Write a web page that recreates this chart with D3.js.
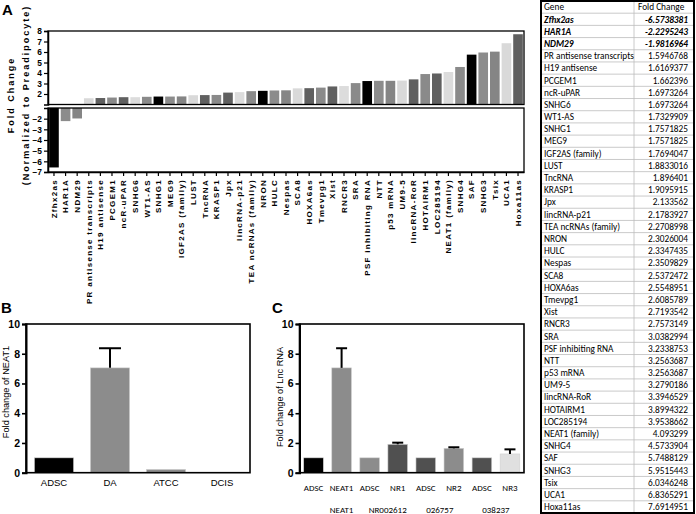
<!DOCTYPE html>
<html>
<head>
<meta charset="utf-8">
<script src="https://cdn.jsdelivr.net/npm/d3@7"></script>
<style>
body { margin: 0; background: #fff; }
svg { display: block; }
text { font-family: "Liberation Sans", Arial, sans-serif; }
.tbl text { font-family: Carlito, "Liberation Sans Narrow", "Liberation Sans", sans-serif; font-size: 9.3px; }
</style>
</head>
<body>
<svg width="696" height="514"></svg>
<script>
// panel A: lncRNA fold change vs preadipocyte
var genes = ["Zfhx2as", "HAR1A", "NDM29", "PR antisense transcripts", "H19 antisense", "PCGEM1",
  "ncR-uPAR", "SNHG6", "WT1-AS", "SNHG1", "MEG9", "IGF2AS (family)", "LUST", "TncRNA", "KRASP1",
  "Jpx", "lincRNA-p21", "TEA ncRNAs (family)", "NRON", "HULC", "Nespas", "SCA8", "HOXA6as",
  "Tmevpg1", "Xist", "RNCR3", "SRA", "PSF inhibiting RNA", "NTT", "p53 mRNA", "UM9-5",
  "lincRNA-RoR", "HOTAIRM1", "LOC285194", "NEAT1 (family)", "SNHG4", "SAF", "SNHG3", "Tsix",
  "UCA1", "Hoxa11as"];
var foldChange = [-6.5738381, -2.2295243, -1.9816964, 1.5946768, 1.6169377, 1.662396,
  1.6973264, 1.6973264, 1.7329909, 1.7571825, 1.7571825, 1.7694047, 1.8833016, 1.896401, 1.9095915,
  2.133562, 2.1783927, 2.2708998, 2.3026004, 2.3347435, 2.3509829, 2.5372472, 2.5548951,
  2.6085789, 2.7193542, 2.7573149, 3.0382994, 3.2338753, 3.2563687, 3.2563687, 3.2790186,
  3.3946529, 3.8994322, 3.9538662, 4.093299, 4.5733904, 5.7488129, 5.9515443, 6.0346248,
  6.8365291, 7.6914951];
var upTicks = [2, 3, 4, 5, 6, 7, 8];
var downTicks = [-2, -3, -4, -5, -6, -7];

// panel B
var bCats = ["ADSC", "DA", "ATCC", "DCIS"];
var bValues = [1.0, 7.05, 0.22, 0.02];
var bErrors = [0, 1.32, 0, 0];

// panel C
var cCats = ["ADSC", "NEAT1", "ADSC", "NR1", "ADSC", "NR2", "ADSC", "NR3"];
var cValues = [1.0, 7.05, 1.0, 1.91, 1.0, 1.64, 1.0, 1.26];
var cErrors = [0, 1.32, 0, 0.11, 0, 0.07, 0, 0.31];
var cGroups = ["NEAT1", "NR002612", "026757", "038237"];
var bcTicks = [0, 2, 4, 6, 8, 10];

// styles
var aPalette = ["#000", "#8c8c8c", "#858585", "#d9d9d9", "#606060", "#8a8a8a", "#606060", "#dcdcdc", "#8a8a8a"];
var bColors = ["#000", "#8c8c8c", "#8c8c8c", "#8c8c8c"];
var cColors = ["#000", "#8c8c8c", "#8c8c8c", "#505050", "#505050", "#8c8c8c", "#505050", "#e0e0e0"];
var cGroupShift = [14, 4, 0, 0];
var intFmt = d3.format("d");

var svg = d3.select("svg");

function panelLetter(x, y, t) {
  svg.append("text").attr("x", x).attr("y", y)
    .style("font-size", "15px").style("font-weight", "bold").text(t);
}

// ---------- panel A ----------
panelLetter(2, 15, "A");

var x = d3.scaleBand().domain(genes).range([48, 524]).paddingInner(0.17).paddingOuter(0.1);
var yUp = d3.scaleLinear().domain([1, 8]).range([104.5, 31]);
var yDown = d3.scaleLinear().domain([-1, -7]).range([108, 172]);

var gA = svg.append("g");

gA.selectAll("rect.bar").data(foldChange).enter().append("rect")
  .attr("class", "bar")
  .attr("x", function(d, i) { return x(genes[i]); })
  .attr("width", x.bandwidth())
  .attr("y", function(d) { return d > 0 ? yUp(d) : yDown(-1); })
  .attr("height", function(d) { return d > 0 ? yUp(1) - yUp(d) : yDown(d) - yDown(-1); })
  .attr("fill", function(d, i) { return aPalette[i % aPalette.length]; });

// boxes
gA.append("rect").attr("x", 48).attr("y", yUp(8)).attr("width", 476).attr("height", yUp(1) - yUp(8))
  .attr("fill", "none").attr("stroke", "#000").attr("stroke-width", 1.3);
gA.append("rect").attr("x", 48).attr("y", yDown(-1)).attr("width", 476).attr("height", yDown(-7) - yDown(-1))
  .attr("fill", "none").attr("stroke", "#000").attr("stroke-width", 1.3);

function styleAxisA(g) {
  g.select(".domain").attr("stroke-width", 1.5);
  g.selectAll(".tick line").attr("stroke-width", 1.2);
  g.selectAll("text").style("font-size", "8.4px").style("font-weight", "bold");
}

gA.append("g").attr("transform", "translate(48,0)")
  .call(d3.axisLeft(yUp).tickValues(upTicks).tickFormat(intFmt).tickSize(4).tickPadding(2))
  .call(styleAxisA);
gA.append("g").attr("transform", "translate(48,0)")
  .call(d3.axisLeft(yDown).tickValues(downTicks).tickFormat(intFmt).tickSize(4).tickPadding(2))
  .call(styleAxisA);

var xAxisA = gA.append("g").attr("transform", "translate(0," + yDown(-7) + ")")
  .call(d3.axisBottom(x).tickSize(4).tickSizeOuter(0));
xAxisA.select(".domain").attr("stroke-width", 1.5);
xAxisA.selectAll(".tick line").attr("stroke-width", 1.2);
xAxisA.selectAll("text")
  .attr("transform", "rotate(-90)")
  .attr("x", -7).attr("y", 0).attr("dy", "0.35em")
  .attr("text-anchor", "end")
  .style("font-size", "8px").style("font-weight", "bold").style("letter-spacing", "1.3px");

var titleA = gA.append("text")
  .attr("transform", "translate(14,95) rotate(-90)")
  .attr("text-anchor", "middle")
  .style("font-size", "9px").style("font-weight", "bold").style("letter-spacing", "2px");
titleA.append("tspan").attr("x", 0).attr("dy", 0).text("Fold  Change");
titleA.append("tspan").attr("x", 0).attr("dy", 15).text("(Normalized to Preadipocyte)");

// ---------- table ----------
var tbl = svg.append("g").attr("class", "tbl");
var tx0 = 541, tx1 = 694, tDiv = 634, rowH = 512 / 42;
var rows = [["Gene", "Fold Change"]].concat(genes.map(function(g, i) { return [g, String(foldChange[i])]; }));

tbl.selectAll("line.row").data(d3.range(1, rows.length)).enter().append("line")
  .attr("x1", tx0).attr("x2", tx1)
  .attr("y1", function(d) { return 1 + d * rowH; }).attr("y2", function(d) { return 1 + d * rowH; })
  .attr("stroke", "#bcbcbc").attr("stroke-width", 0.8);
tbl.append("line").attr("x1", tDiv).attr("x2", tDiv).attr("y1", 1).attr("y2", 513)
  .attr("stroke", "#bcbcbc").attr("stroke-width", 0.8);

var rowG = tbl.selectAll("g.row").data(rows).enter().append("g")
  .attr("transform", function(d, i) { return "translate(0," + (1 + i * rowH + rowH / 2) + ")"; });
rowG.append("text").attr("x", tx0 + 3).attr("dy", "0.35em")
  .style("font-weight", function(d, i) { return i >= 1 && i <= 3 ? "bold" : "normal"; })
  .style("font-style", function(d, i) { return i >= 1 && i <= 3 ? "italic" : "normal"; })
  .text(function(d) { return d[0]; });
rowG.append("text").attr("x", function(d, i) { return i === 0 ? tDiv + 4 : tx1 - 6; })
  .attr("text-anchor", function(d, i) { return i === 0 ? "start" : "end"; })
  .attr("dy", "0.35em")
  .style("font-weight", function(d, i) { return i >= 1 && i <= 3 ? "bold" : "normal"; })
  .style("font-style", function(d, i) { return i >= 1 && i <= 3 ? "italic" : "normal"; })
  .text(function(d) { return d[1]; });

tbl.append("rect").attr("x", tx0).attr("y", 1).attr("width", tx1 - tx0).attr("height", 512)
  .attr("fill", "none").attr("stroke", "#000").attr("stroke-width", 2);

// ---------- panels B and C ----------
var yBC = d3.scaleLinear().domain([0, 10]).range([472.7, 324]);

function barPanel(left, right, cats, values, errors, colors, label, labelY) {
  var xs = d3.scaleBand().domain(d3.range(cats.length)).range([left, right])
    .paddingInner(0.3).paddingOuter(0.15);
  var g = svg.append("g");
  var cx = function(i) { return xs(i) + xs.bandwidth() / 2; };
  var cap = Math.min(11, xs.bandwidth() * 0.28);
  g.selectAll("rect.bar").data(values).enter().append("rect")
    .attr("x", function(d, i) { return xs(i); })
    .attr("width", xs.bandwidth())
    .attr("y", function(d) { return yBC(d); })
    .attr("height", function(d) { return yBC(0) - yBC(d); })
    .attr("fill", function(d, i) { return colors[i]; })
    .attr("stroke", "#d0d0d0").attr("stroke-width", 0.6);
  // upper error bars
  var idx = d3.range(values.length).filter(function(i) { return errors[i] > 0; });
  g.selectAll("line.ev").data(idx).enter().append("line")
    .attr("x1", cx).attr("x2", cx)
    .attr("y1", function(i) { return yBC(values[i]); })
    .attr("y2", function(i) { return yBC(values[i] + errors[i]); })
    .attr("stroke", "#000").attr("stroke-width", 2);
  g.selectAll("line.ec").data(idx).enter().append("line")
    .attr("x1", function(i) { return cx(i) - cap; })
    .attr("x2", function(i) { return cx(i) + cap; })
    .attr("y1", function(i) { return yBC(values[i] + errors[i]); })
    .attr("y2", function(i) { return yBC(values[i] + errors[i]); })
    .attr("stroke", "#000").attr("stroke-width", 2);

  g.append("rect").attr("x", left).attr("y", yBC(10)).attr("width", right - left).attr("height", yBC(0) - yBC(10))
    .attr("fill", "none").attr("stroke", "#000").attr("stroke-width", 1.6);
  var ya = g.append("g").attr("transform", "translate(" + left + ",0)")
    .call(d3.axisLeft(yBC).tickValues(bcTicks).tickFormat(intFmt).tickSize(4).tickPadding(2));
  ya.select(".domain").attr("stroke-width", 2);
  ya.selectAll(".tick line").attr("stroke-width", 1.6);
  ya.selectAll("text").style("font-size", "10.5px").style("font-weight", "bold");
  g.append("text")
    .attr("transform", "translate(" + (left - 17) + "," + labelY + ") rotate(-90)")
    .attr("text-anchor", "middle").style("font-size", "9.2px").text(label);
  return xs;
}

panelLetter(1, 313, "B");
var xb = barPanel(26, 250, bCats, bValues, bErrors, bColors, "Fold change of NEAT1", 392);
svg.selectAll("text.bx").data(bCats).enter().append("text")
  .attr("x", function(d, i) { return xb(i) + xb.bandwidth() / 2; })
  .attr("y", 486).attr("text-anchor", "middle").style("font-size", "9.5px")
  .text(function(d) { return d; });

panelLetter(272, 313, "C");
var xc = barPanel(299.5, 524, cCats, cValues, cErrors, cColors, "Fold change of Lnc RNA", 397);
svg.selectAll("text.cx").data(cCats).enter().append("text")
  .attr("x", function(d, i) { return xc(i) + xc.bandwidth() / 2; })
  .attr("y", 491).attr("text-anchor", "middle")
  .style("font-family", "Carlito, 'Liberation Sans Narrow', 'Liberation Sans', sans-serif").style("font-size", "9px")
  .text(function(d) { return d; });
svg.selectAll("text.cg").data(cGroups).enter().append("text")
  .attr("x", function(d, i) { return (xc(2 * i) + xc(2 * i + 1) + xc.bandwidth()) / 2 + cGroupShift[i]; })
  .attr("y", 513).attr("text-anchor", "middle")
  .style("font-family", "Carlito, 'Liberation Sans Narrow', 'Liberation Sans', sans-serif").style("font-size", "9px")
  .text(function(d) { return d; });
</script>
</body>
</html>
